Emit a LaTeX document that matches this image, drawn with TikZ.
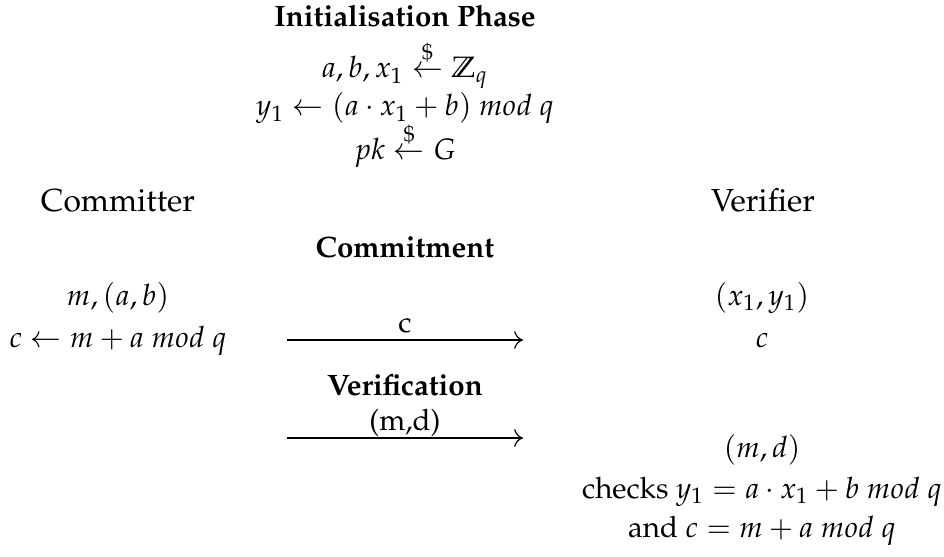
\documentclass[tikz,border=0pt]{standalone}
\usepackage[T1]{fontenc}
\usepackage{mathpazo}
\usepackage{amsmath,amssymb}
\usetikzlibrary{arrows.meta}
\newcommand{\rnd}{\mathrel{\overset{\raisebox{0.6pt}{$\scriptstyle\$$}}{\leftarrow}}}
\begin{document}
\begin{tikzpicture}[x=0.339pt,y=-0.339pt,
  txt/.style={anchor=base, inner sep=0pt, outer sep=0pt},
  party/.style={txt, font=\fontsize{10.8}{13}\selectfont},
  lbl/.style={txt, midway, yshift=2.7pt},
  msg/.style={-{To[length=3pt,width=6pt]}, line width=0.4pt}]
\useasboundingbox (0,0) rectangle (944,556);
% initialisation
\node[txt] (init) at (405,27) {\textbf{Initialisation Phase}};
\node[txt] (i1) at (405,78) {$a,b,x_1 \rnd \mathbb{Z}_q$};
\node[txt] (i2) at (405,116) {$y_1 \leftarrow (a\cdot x_1+b)\ mod\ q$};
\node[txt] (i3) at (405,160) {$pk \rnd G$};
% parties
\node[party] (committer) at (118,212) {Committer};
\node[party] (verifier) at (763,212) {Verifier};
% commitment
\node[txt] (commit) at (405,257) {\textbf{Commitment}};
\node[txt] (cm1) at (118,305) {$m,(a,b)$};
\node[txt] (cm2) at (118,347) {$c \leftarrow m + a\ mod\ q$};
\node[txt] (vr1) at (762,305) {$(x_1,y_1)$};
\node[txt] (vr2) at (762,347) {$c$};
\coordinate (a1s) at (287,340);
\coordinate (a1e) at (523,340);
\draw[msg] (a1s) -- node[lbl] (a1l) {c} (a1e);
% verification
\node[txt] (verif) at (405,395) {\textbf{Verification}};
\coordinate (a2s) at (287,438);
\coordinate (a2e) at (523,438);
\draw[msg] (a2s) -- node[lbl] (a2l) {(m,d)} (a2e);
\node[txt] (vr3) at (762,457) {$(m,d)$};
\node[txt] (vr4) at (762,498) {checks $y_1 = a\cdot x_1 + b\ mod\ q$};
\node[txt] (vr5) at (762,537) {and $c = m + a\ mod\ q$};
\end{tikzpicture}
\end{document}
